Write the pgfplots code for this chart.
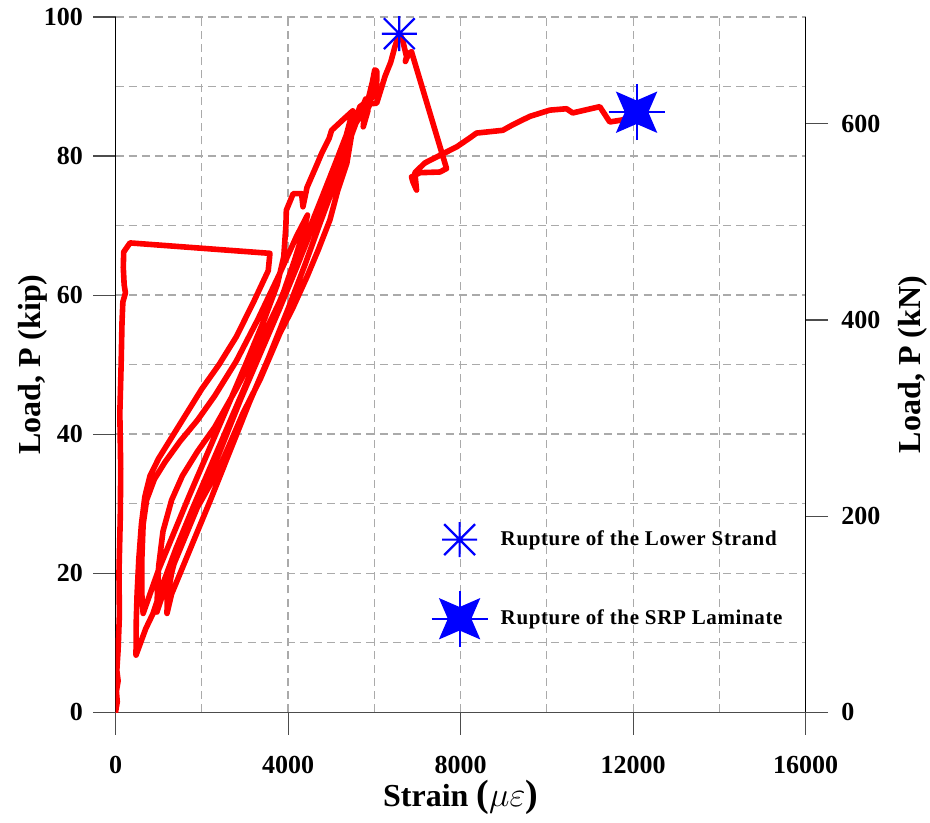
\documentclass[border=0pt]{standalone}
\usepackage{fontspec}
\setmainfont{Liberation Serif}
\newfontfamily\legfont{Liberation Serif}[LetterSpace=3]
\usepackage{pgfplots}
\pgfplotsset{compat=1.18}

\pgfdeclareplotmark{ast8}{%
  \pgfpathmoveto{\pgfpoint{-\pgfplotmarksize}{0pt}}\pgfpathlineto{\pgfpoint{\pgfplotmarksize}{0pt}}%
  \pgfpathmoveto{\pgfpoint{0pt}{-\pgfplotmarksize}}\pgfpathlineto{\pgfpoint{0pt}{\pgfplotmarksize}}%
  \pgfpathmoveto{\pgfpoint{-0.88\pgfplotmarksize}{-0.88\pgfplotmarksize}}\pgfpathlineto{\pgfpoint{0.88\pgfplotmarksize}{0.88\pgfplotmarksize}}%
  \pgfpathmoveto{\pgfpoint{-0.88\pgfplotmarksize}{0.88\pgfplotmarksize}}\pgfpathlineto{\pgfpoint{0.88\pgfplotmarksize}{-0.88\pgfplotmarksize}}%
  \pgfusepathqstroke}

\pgfdeclareplotmark{srp}{%
  \pgfpathmoveto{\pgfpointpolar{45}{0.95\pgfplotmarksize}}%
  \pgfpathlineto{\pgfpointpolar{90}{0.38\pgfplotmarksize}}%
  \pgfpathlineto{\pgfpointpolar{135}{0.95\pgfplotmarksize}}%
  \pgfpathlineto{\pgfpointpolar{180}{0.38\pgfplotmarksize}}%
  \pgfpathlineto{\pgfpointpolar{225}{0.95\pgfplotmarksize}}%
  \pgfpathlineto{\pgfpointpolar{270}{0.38\pgfplotmarksize}}%
  \pgfpathlineto{\pgfpointpolar{315}{0.95\pgfplotmarksize}}%
  \pgfpathlineto{\pgfpointpolar{0}{0.38\pgfplotmarksize}}%
  \pgfpathclose
  \pgfusepathqfillstroke
  \pgfpathmoveto{\pgfpoint{-\pgfplotmarksize}{0pt}}\pgfpathlineto{\pgfpoint{\pgfplotmarksize}{0pt}}%
  \pgfpathmoveto{\pgfpoint{0pt}{-\pgfplotmarksize}}\pgfpathlineto{\pgfpoint{0pt}{\pgfplotmarksize}}%
  \pgfusepathqstroke}

\pgfplotsset{markonly legend/.style={legend image code/.code={\draw[##1] plot coordinates {(0pt,0pt)}; \path (-14pt,-10pt) (20pt,10pt);}}}

\definecolor{gridgray}{RGB}{170,170,170}

\begin{document}
\begin{tikzpicture}
\begin{axis}[name=main, scale only axis, width=345pt, height=347.5pt,
  xmin=0, xmax=16000, ymin=0, ymax=100,
  axis x line*=bottom, axis y line*=left,
  x axis line style={-, black!70, line width=0.6pt},
  y axis line style={-, black, line width=0.6pt},
  xtick={0,4000,8000,12000,16000}, ytick={0,20,40,60,80,100},
  minor xtick={2000,6000,10000,14000}, minor ytick={10,30,50,70,90},
  grid=both,
  major grid style={dash pattern=on 4pt off 2.6pt, gridgray, line width=0.6pt},
  minor grid style={dash pattern=on 4pt off 2.6pt, gridgray, line width=0.6pt},
  tick align=outside, major tick length=11.25pt, minor tick length=0pt,
  tick style={black!70, line width=0.55pt},
  scaled ticks=false,
  /pgf/number format/assume math mode=true,
  /pgf/number format/set thousands separator={},
  tick label style={font=\bfseries\fontsize{13}{15}\selectfont},
  xticklabel style={yshift=-7pt},
  yticklabel style={xshift=-1.5pt},
  xlabel={Strain {\fontsize{19}{21}\selectfont($\mu\varepsilon$)}},
  ylabel={Load, P (kip)},
  every axis x label/.style={at={([yshift=-47pt]axis description cs:0.5,0)}, anchor=base, font=\bfseries\fontsize{16}{19}\selectfont},
  every axis y label/.style={at={([xshift=-37.75pt]axis description cs:0,0.5)}, rotate=90, anchor=base, font=\bfseries\fontsize{16}{19}\selectfont},
  legend style={draw=none, fill=none, inner sep=0pt, row sep=15pt,
    at={(axis description cs:0.4558,0.2791)}, anchor=north west,
    nodes={inner sep=0pt, font=\legfont\bfseries\fontsize{10.5}{12}\selectfont}},
  legend cell align=left,
]
\addplot[red, line width=2.8pt, line join=round, line cap=round, forget plot] coordinates {
(0,0) (40,1.5) (20,3) (60,4.5) (30,6) (60,9) (90,14) (80,20) (110,28) (120,35) (100,43) (130,50) (150,56) (170,59) (230,60.3) (200,61.5) (180,64) (190,66.2) (336,67.5) (3580,66.0)
(3540,63.5) (3200,59) (2800,54) (2400,50) (2000,46.5) (1600,42.5) (1250,39) (1000,36.5) (800,34) (680,31) (600,27) (540,22) (500,17) (480,13) (475,8.2)
(700,12) (870,14.2) (1100,18.5) (1400,23.5) (1800,29.5) (2250,36) (2700,42.5) (3150,49) (3550,55) (3900,60.5) (4150,65) (4350,69) (4450,71.5)
(4200,68.5) (3800,63) (3300,56.5) (2800,50.5) (2300,45.5) (1900,42) (1500,39) (1150,36) (900,33.5) (720,30.5) (640,27) (610,22) (610,17) (640,14.2)
(800,17) (1000,20.5) (1300,25) (1700,31) (2150,37.5) (2600,44) (3050,50.5) (3450,56.5) (3750,61.5) (3900,65.5) (3950,70) (3960,72.2) (4120,74.6) (4314,74.6) (4345,72.7) (4440,75.5) (4650,78.5) (4780,80.4) (4950,82.5) (5010,83.7) (5270,85.2) (5500,86.5)
(5350,83) (5100,79) (4750,73.5) (4300,66.5) (3800,59) (3300,52.5) (2800,46.5) (2300,41) (1900,37.5) (1550,34) (1300,30.5) (1100,26) (1000,21) (970,17) (960,14.4)
(1100,17) (1300,20.5) (1600,25) (2000,31) (2450,38) (2900,45) (3350,51.5) (3800,58) (4200,64) (4550,69.5) (4850,74.5) (5100,78.5) (5350,82) (5550,84.5) (5750,86.5) (5870,88.5) (5950,90.5) (6010,92.4) (6060,92.2)
(6054,90.5) (5966,88.5) (5665,87.1) (5503,84.2) (5364,79) (5150,75) (4970,70.8) (4700,66.5) (4437,62.6) (4100,58) (3811,54.5) (3348,47.8) (2954,43) (2421,35.3) (1958,30.1) (1700,27.5) (1494,24.7) (1300,20) (1200,16.5) (1193,14.2)
(1300,17) (1500,20) (1800,24.5) (2200,30.5) (2650,37.5) (3100,44.5) (3550,51) (4000,58) (4400,64.5) (4750,70.5) (5050,75.5) (5300,80) (5500,83.5) (5650,86) (5800,88.2) (5850,86.5) (5743,84.2) (5760,85.5) (5900,87.5) (6054,87.6) (6150,89.5) (6250,91.5) (6380,93.5) (6476,95.7) (6579,97.6)
(6650,96.8) (6747,94.3) (6720,93.6) (6800,94.8) (6862,95.0) (7674,78.2) (7519,77.7) (7055,77.6) (6863,77.0) (6893,76.3) (6979,75.1) (6939,77.6) (7171,79.0) (7519,80.1) (7905,81.3) (8213,82.6) (8369,83.3) (8978,83.7) (9210,84.5) (9604,85.7) (10067,86.6) (10454,86.8) (10600,86.2) (11226,87.1) (11458,84.9) (11759,85.2) (12080,86.3)
};
\addplot[blue, only marks, mark=ast8, mark size=8.75pt, line width=1.1pt, mark options={draw=blue}, markonly legend]
  coordinates {(6579,97.6)};
\addlegendentry{Rupture of the Lower Strand}
\addplot[blue, only marks, mark=srp, mark size=14pt, line width=1pt, mark options={draw=blue, fill=blue}, markonly legend]
  coordinates {(12080,86.3)};
\addlegendentry{Rupture of the SRP Laminate}
\end{axis}
\begin{axis}[scale only axis, width=345pt, height=347.5pt,
  xmin=0, xmax=16000, ymin=0, ymax=709,
  axis x line=none, axis y line*=right,
  y axis line style={-, black, line width=0.6pt},
  ytick={0,200,400,600},
  tick align=outside, major tick length=11.25pt,
  tick style={black!70, line width=0.55pt},
  /pgf/number format/assume math mode=true,
  tick label style={font=\bfseries\fontsize{13}{15}\selectfont},
  yticklabel style={xshift=3pt},
  ylabel={Load, P (kN)},
  every axis y label/.style={at={([xshift=57.5pt]axis description cs:1,0.5)}, rotate=90, anchor=base, font=\bfseries\fontsize{16}{19}\selectfont},
]
\end{axis}
\pgfresetboundingbox
\path ([shift={(-57.75pt,-55pt)}]main.south west) rectangle ([shift={(62.15pt,8.5pt)}]main.north east);
\end{tikzpicture}
\end{document}
